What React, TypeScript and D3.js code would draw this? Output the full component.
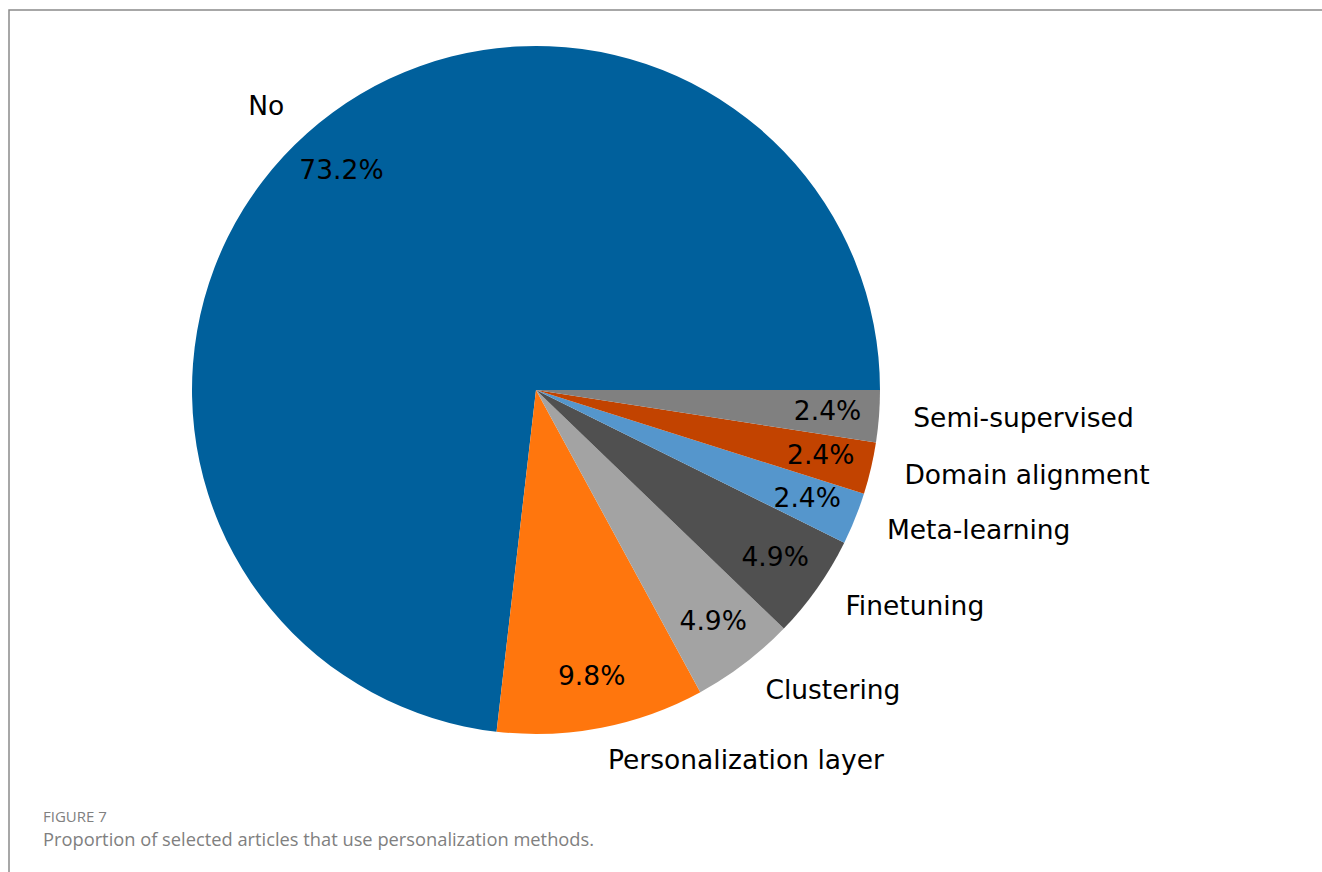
import React from "react";
import * as d3 from "d3";

const categories = ["No", "Personalization layer", "Clustering", "Finetuning", "Meta-learning", "Domain alignment", "Semi-supervised"];
const counts = [30, 4, 2, 2, 1, 1, 1];
const colors = ["#00609C", "#FF760D", "#A3A3A3", "#505050", "#5596CC", "#C24300", "#808080"];

const W = 1322, H = 872;
const cx = 536, cy = 390, R = 344;

export default function App() {
  const total = d3.sum(counts);
  const pie = d3.pie<number>().sort(null).startAngle(Math.PI / 2).endAngle(Math.PI / 2 - 2 * Math.PI);
  const arcs = pie(counts);
  const arc = d3.arc<d3.PieArcDatum<number>>().innerRadius(0).outerRadius(R);
  const font = "'DejaVu Sans', sans-serif";
  return (
    <svg width={W} height={H} style={{ position: "absolute", left: 0, top: 0 }}>
      <rect width={W} height={H} fill="#fff" />
      <path d={`M9,${H} L9,10 L${W},10`} fill="none" stroke="#8a8a8a" strokeWidth={1.5} />
      <g transform={`translate(${cx},${cy})`}>
        {arcs.map((a, i) => (
          <path key={i} d={arc(a) || ""} fill={colors[i]} />
        ))}
        {arcs.map((a, i) => {
          const mid = (a.startAngle + a.endAngle) / 2;
          const sx = Math.sin(mid), sy = -Math.cos(mid);
          const lx = 1.1 * R * sx, ly = 1.1 * R * sy;
          const px = 0.85 * R * sx, py = 0.85 * R * sy;
          return (
            <g key={"t" + i} style={{ fontFamily: font }} fill="#000">
              <text x={lx} y={ly} dy="0.29em" fontSize={26.5} textAnchor={lx < 0 ? "end" : "start"}>{categories[i]}</text>
              <text x={px} y={py} dy="0.29em" fontSize={26.5} textAnchor="middle">{(counts[i] / total * 100).toFixed(1)}%</text>
            </g>
          );
        })}
      </g>
      <text x={43} y={822} style={{ fontFamily: "'Open Sans', sans-serif" }} fontSize={15} fontWeight={500} fill="#808080">FIGURE 7</text>
      <text x={43} y={846} style={{ fontFamily: "'Open Sans', sans-serif" }} fontSize={18.3} fill="#808080">Proportion of selected articles that use personalization methods.</text>
    </svg>
  );
}
